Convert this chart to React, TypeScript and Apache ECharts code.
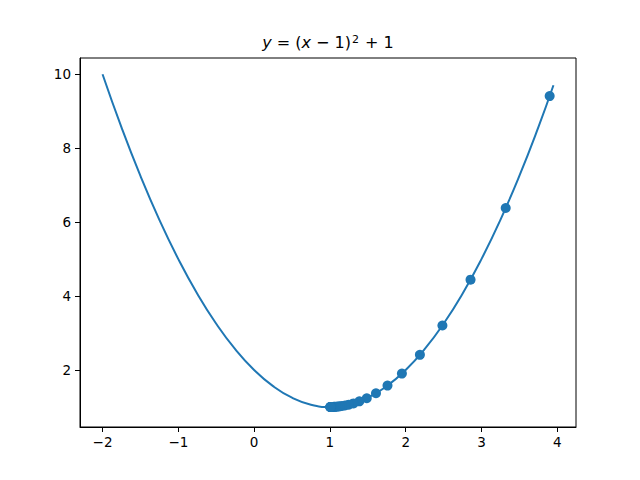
import React, { useEffect, useRef } from "react";
import * as echarts from "echarts";

const curveX = [-2, -1.75, -1.5, -1.25, -1, -0.75, -0.5, -0.25, 0, 0.25, 0.5, 0.75, 1, 1.25, 1.5, 1.75, 2, 2.25, 2.5, 2.75, 3, 3.25, 3.5, 3.75, 3.95];
const curveY = [10, 8.5625, 7.25, 6.0625, 5, 4.0625, 3.25, 2.5625, 2, 1.5625, 1.25, 1.0625, 1, 1.0625, 1.25, 1.5625, 2, 2.5625, 3.25, 4.0625, 5, 6.0625, 7.25, 8.5625, 9.7025];

const stepX = [3.9, 3.32, 2.856, 2.4848, 2.1878, 1.9503, 1.7602, 1.6082, 1.4865, 1.3892, 1.3114, 1.2491, 1.1993, 1.1594, 1.1275, 1.102, 1.0816, 1.0653, 1.0522, 1.0418, 1.0334, 1.0267, 1.0214, 1.0171, 1.0137, 1.011, 1.0088, 1.007, 1.0056, 1.0045];
const stepY = [9.41, 6.3824, 4.4447, 3.2046, 2.411, 1.903, 1.5779, 1.3699, 1.2367, 1.1515, 1.097, 1.0621, 1.0397, 1.0254, 1.0163, 1.0104, 1.0067, 1.0043, 1.0027, 1.0017, 1.0011, 1.0007, 1.0005, 1.0003, 1.0002, 1.0001, 1.0001, 1.0, 1.0, 1.0];

const xTicks = [-2, -1, 0, 1, 2, 3, 4];
const yTicks = [2, 4, 6, 8, 10];

const FONT = "DejaVu Sans";
const BLUE = "#1f77b4";

const fmt = (v: number) => (v < 0 ? "\u2212" + Math.abs(v) : String(v));

export default function App() {
  const ref = useRef<HTMLDivElement>(null);
  useEffect(() => {
    if (!ref.current) return;
    const chart = echarts.init(ref.current, null, { renderer: "svg" });
    chart.setOption({
      animation: false,
      backgroundColor: "#fff",
      title: {
        text: "{i|y} = ({i|x} \u2212 1){s|2} + 1",
        left: 328,
        textAlign: "center",
        top: 34,
        padding: 0,
        textStyle: {
          fontFamily: FONT,
          fontSize: 16,
          fontWeight: "normal",
          color: "#000",
          rich: {
            i: { fontFamily: FONT, fontSize: 16, fontStyle: "italic", color: "#000" },
            s: { fontFamily: FONT, fontSize: 11, color: "#000", verticalAlign: "top", padding: [0, 1, 0, 1] },
          },
        },
      },
      grid: {
        left: 80,
        right: 64,
        top: 58,
        bottom: 53,
        show: true,
        borderColor: "#000",
        borderWidth: 1,
        containLabel: false,
      },
      xAxis: {
        type: "value",
        min: -2.2975,
        max: 4.2475,
        splitLine: { show: false },
        axisLine: { show: true, onZero: false, lineStyle: { color: "#000", width: 1 } },
        axisTick: { show: true, length: 5, lineStyle: { color: "#000" }, customValues: xTicks },
        axisLabel: {
          customValues: xTicks,
          formatter: fmt,
          color: "#000",
          fontFamily: FONT,
          fontSize: 13.5,
          margin: 8,
        },
      },
      yAxis: {
        type: "value",
        min: 0.458,
        max: 10.44,
        splitLine: { show: false },
        axisLine: { show: true, onZero: false, lineStyle: { color: "#000", width: 1 } },
        axisTick: { show: true, length: 5, lineStyle: { color: "#000" }, customValues: yTicks },
        axisLabel: {
          customValues: yTicks,
          formatter: fmt,
          color: "#000",
          fontFamily: FONT,
          fontSize: 13.5,
          margin: 9,
        },
      },
      series: [
        {
          type: "line",
          data: curveX.map((x, i) => [x, curveY[i]]),
          showSymbol: false,
          symbol: "none",
          smooth: true,
          lineStyle: { color: BLUE, width: 2 },
          z: 2,
        },
        {
          type: "scatter",
          data: stepX.map((x, i) => [x, stepY[i]]),
          symbol: "circle",
          symbolSize: 10,
          itemStyle: { color: BLUE, opacity: 1 },
          z: 3,
        },
      ],
    });
    return () => chart.dispose();
  }, []);
  return <div ref={ref} style={{ width: 640, height: 480, position: "absolute", left: 0, top: 0 }} />;
}
